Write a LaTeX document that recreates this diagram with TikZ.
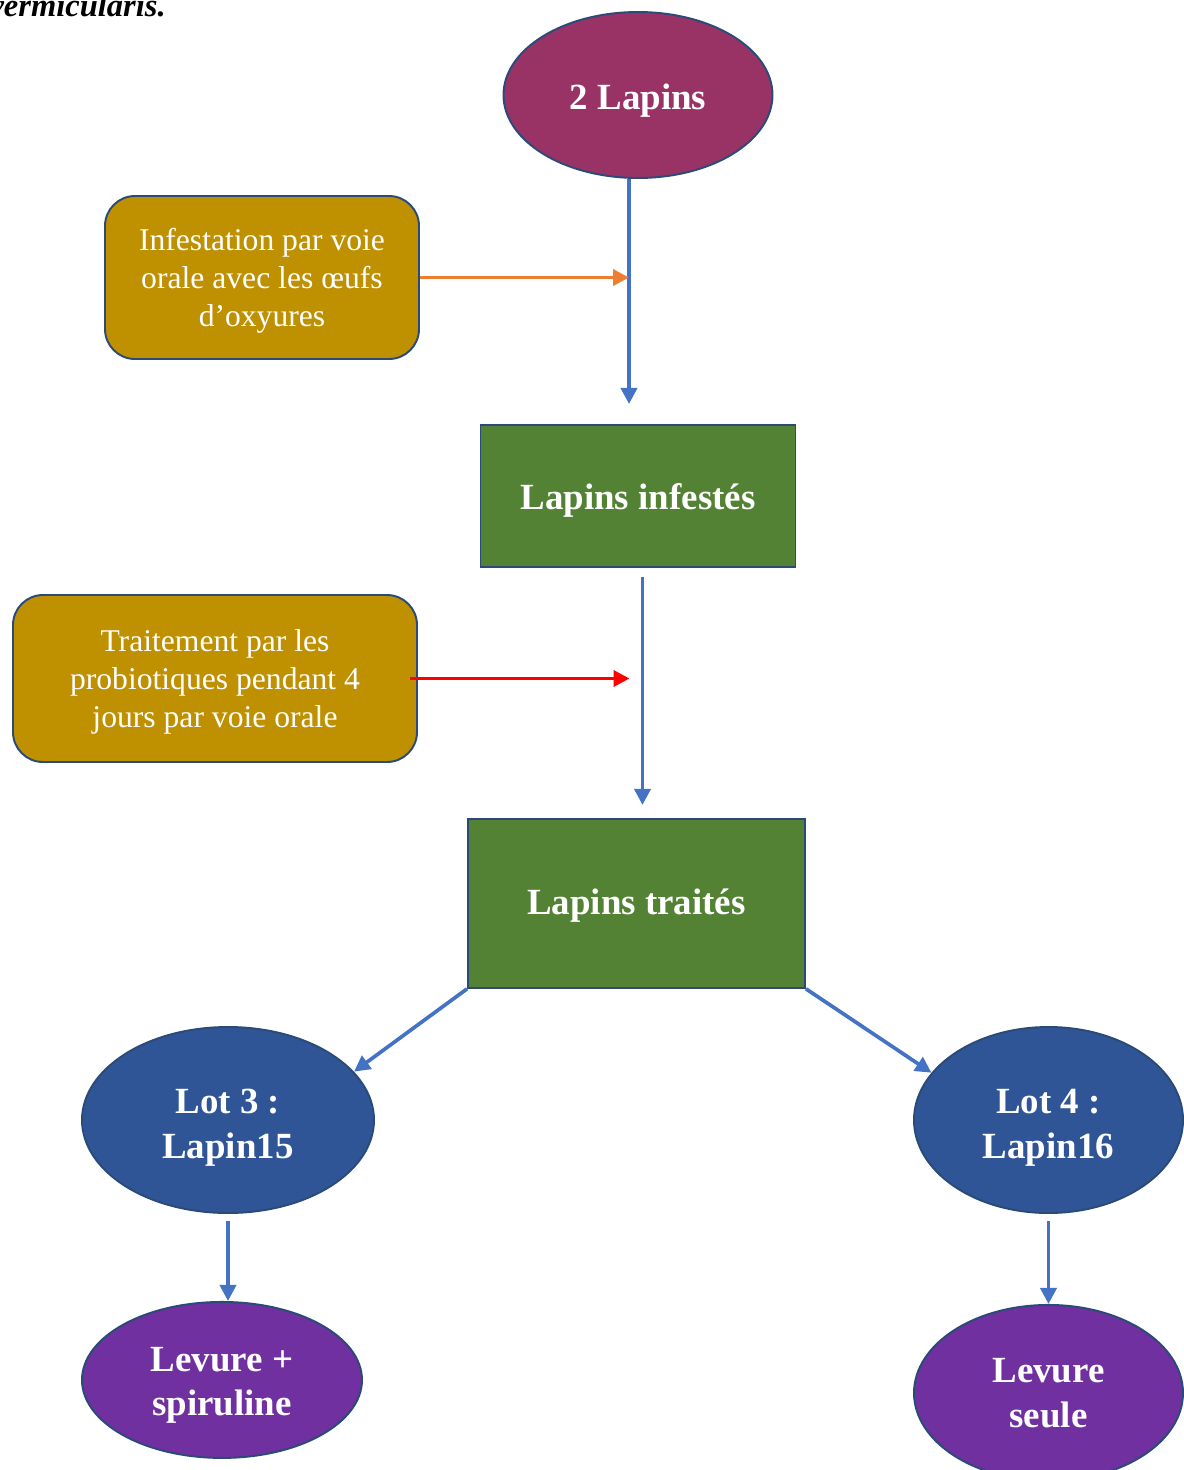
\documentclass[tikz,border=0pt]{standalone}
\usepackage{fontspec}
\setmainfont{Liberation Serif}
\usetikzlibrary{arrows.meta,shapes,positioning,calc}

\definecolor{prune}{HTML}{993366}
\definecolor{ocre}{HTML}{BF9000}
\definecolor{vertlot}{HTML}{548235}
\definecolor{bleulot}{HTML}{2F5597}
\definecolor{violet}{HTML}{7030A0}
\definecolor{bord}{HTML}{2A4A78}
\definecolor{bleufl}{HTML}{4472C4}
\definecolor{orangefl}{HTML}{ED7D31}
\definecolor{rougefl}{HTML}{FF0000}

\newcommand{\grastxt}{\fontsize{21}{25.5}\selectfont\bfseries}
\newcommand{\petittxt}{\fontsize{18}{21.6}\selectfont}

\begin{document}
\begin{tikzpicture}[
        bloc/.style={rectangle, draw=bord, line width=1.1pt, fill=vertlot, text=white, font=\grastxt, align=center},
        ovale/.style={ellipse, draw=bord, line width=1.1pt, text=white, font=\grastxt, align=center, inner sep=0pt},
        % boites arrondies pour les etapes
        boite/.style={rectangle, rounded corners=0.6cm, draw=bord, line width=1.1pt, fill=ocre, text=white, font=\petittxt, align=center,
            text height=60pt},
        fleche/.style={line width=2.1pt, draw=bleufl, -{Triangle[length=0.32cm, width=0.32cm]}}
    ]
    \useasboundingbox (0,0) rectangle (23.68,-29.40);

    % --- titre coupe en haut ---
    \node (titre) [anchor=base east, inner sep=0pt, font=\fontsize{18.5}{21}\selectfont\bfseries\itshape] at (3.32,-0.32) {vermicularis.};

    % --- Partie 1 : infestation ---
    \node (lapins) [ovale, fill=prune, text height=21pt, minimum width=5.38cm, minimum height=3.32cm] at (12.76,-1.90) {2 Lapins};
    \node (infestes) [bloc, below=4.9cm of lapins, text height=20pt, minimum width=6.30cm, minimum height=2.84cm] {Lapins infestés};
    \node (infestation) [boite, minimum width=6.28cm, minimum height=3.26cm] at (5.24,-5.55) {Infestation par voie\\orale avec les œufs\\d’oxyures};

    \coordinate (axe1) at ([xshift=-0.18cm]lapins.south);
    \draw[fleche, shorten >=0.4cm] (axe1) -- (axe1 |- infestes.north);
    \draw[fleche, draw=orangefl] (infestation.east) -- (infestation.east -| axe1);

    % --- Partie 2 : traitement ---
    \node (traites) [bloc, below=5.0cm of infestes, xshift=-0.03cm, text height=16.6pt, minimum width=6.74cm, minimum height=3.38cm] {Lapins traités};
    \node (traitement) [boite, minimum width=8.08cm, minimum height=3.34cm] at (4.30,-13.57) {Traitement par les\\probiotiques pendant 4\\jours par voie orale};

    \coordinate (axe2) at ([xshift=0.09cm]infestes.south);
    \draw[fleche, shorten <=0.18cm, shorten >=0.26cm] (axe2) -- (axe2 |- traites.north);
    \draw[fleche, draw=rougefl, shorten <=-0.16cm, shorten >=0.26cm] (traitement.east) -- (traitement.east -| axe2);

    % --- Partie 3 : les lots ---
    \node (lot3) [ovale, fill=bleulot, text height=47.7pt, minimum width=5.84cm, minimum height=3.72cm] at (4.56,-22.40) {Lot 3 :\\Lapin15};
    \node (lot4) [ovale, fill=bleulot, text height=47.7pt, minimum width=5.38cm, minimum height=3.72cm] at (20.97,-22.40) {Lot 4 :\\Lapin16};
    \node (levure1) [ovale, fill=violet, below=1.74cm of lot3, xshift=-0.12cm, text height=45.4pt, minimum width=5.60cm, minimum height=3.12cm] {Levure +\\spiruline};
    \node (levure2) [ovale, fill=violet, below=1.80cm of lot4, minimum width=5.38cm, minimum height=3.52cm] {Levure\\seule};

    \draw[fleche] (traites.south west) -- (lot3.21);
    \draw[fleche] (traites.south east) -- (lot4.158);
    \draw[fleche, shorten <=0.14cm] (lot3.south) -- (lot3.south |- levure1.north);
    \draw[fleche, shorten <=0.14cm] (lot4.south) -- (lot4.south |- levure2.north);

\end{tikzpicture}
\end{document}
